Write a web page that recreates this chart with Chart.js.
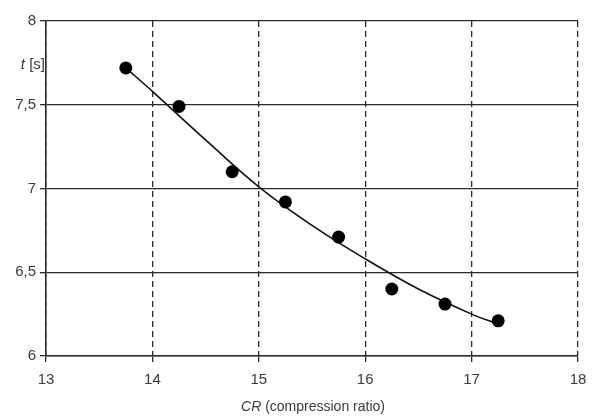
<!DOCTYPE html>
<html>
<head>
<meta charset="utf-8">
<script src="https://cdn.jsdelivr.net/npm/chart.js@4/dist/chart.umd.min.js"></script>
<style>
  html, body { margin: 0; padding: 0; background: #fff; }
  #wrap { width: 593px; height: 417px; }
</style>
</head>
<body>
<div id="wrap"><canvas id="c" width="593" height="417"></canvas></div>
<script>
// Measured fuel-injection time t against compression ratio CR
const crMeasured = [13.75, 14.25, 14.75, 15.25, 15.75, 16.25, 16.75, 17.25];
const tMeasured  = [7.72, 7.49, 7.10, 6.92, 6.71, 6.40, 6.31, 6.21];

// Trend curve through the measurements
const crTrend = [13.75, 14.0, 14.5, 15.0, 15.5, 16.0, 16.5, 17.0, 17.25];
const tTrend  = [7.72, 7.58, 7.29, 7.01, 6.78, 6.58, 6.40, 6.25, 6.19];

// Axis tick labels (comma decimals)
const xTickLabels = ['13', '14', '15', '16', '17', '18'];
const yTickLabels = ['6', '6,5', '7', '7,5', '8'];

const toPoints = (xs, ys) => xs.map((x, i) => ({ x: x, y: ys[i] }));

const textColor = '#3a3a3a';
const gridColor = '#2a2a2a';
const tickFont = { family: 'Liberation Sans, Arial, sans-serif', size: 15 };

// Paper background and axis captions with italic symbols
const captions = {
  id: 'captions',
  beforeDraw(chart) {
    const ctx = chart.ctx;
    ctx.save();
    ctx.fillStyle = '#ffffff';
    ctx.fillRect(0, 0, chart.width, chart.height);
    ctx.restore();
  },
  afterDraw(chart) {
    const ctx = chart.ctx;
    const ys = chart.scales.y;
    const area = chart.chartArea;
    ctx.save();
    ctx.fillStyle = textColor;
    ctx.textBaseline = 'middle';

    // y caption: "t [s]"
    const yc = ys.getPixelForValue(7.74);
    ctx.font = 'italic 15px Liberation Sans, Arial, sans-serif';
    const tW = ctx.measureText('t ').width;
    ctx.font = '15px Liberation Sans, Arial, sans-serif';
    const sW = ctx.measureText('[s]').width;
    const yRight = area.left - 1;
    ctx.textAlign = 'left';
    ctx.font = 'italic 15px Liberation Sans, Arial, sans-serif';
    ctx.fillText('t ', yRight - sW - tW, yc);
    ctx.font = '15px Liberation Sans, Arial, sans-serif';
    ctx.fillText('[s]', yRight - sW, yc);

    // x caption: "CR (compression ratio)"
    ctx.font = 'italic 14px Liberation Sans, Arial, sans-serif';
    const crW = ctx.measureText('CR').width;
    ctx.font = '14px Liberation Sans, Arial, sans-serif';
    const restW = ctx.measureText(' (compression ratio)').width;
    const cx = 313;
    const xStart = cx - (crW + restW) / 2;
    const xcY = 407;
    ctx.font = 'italic 14px Liberation Sans, Arial, sans-serif';
    ctx.fillText('CR', xStart, xcY);
    ctx.font = '14px Liberation Sans, Arial, sans-serif';
    ctx.fillText(' (compression ratio)', xStart + crW, xcY);
    ctx.restore();
  }
};

new Chart(document.getElementById('c'), {
  type: 'scatter',
  data: {
    datasets: [
      {
        label: 'measured',
        data: toPoints(crMeasured, tMeasured),
        pointRadius: 6.5,
        pointHoverRadius: 6.5,
        pointBackgroundColor: '#000',
        pointBorderColor: '#000',
        pointBorderWidth: 0,
        showLine: false
      },
      {
        label: 'trend',
        data: toPoints(crTrend, tTrend),
        showLine: true,
        pointRadius: 0,
        borderColor: '#111',
        borderWidth: 1.6,
        tension: 0.4,
        fill: false
      }
    ]
  },
  plugins: [captions],
  options: {
    responsive: false,
    animation: false,
    events: [],
    layout: { padding: { top: 21, right: 15, left: 0, bottom: 0 } },
    plugins: {
      legend: { display: false },
      tooltip: { enabled: false }
    },
    scales: {
      x: {
        type: 'linear',
        min: 13,
        max: 18,
        afterFit(scale) {
          scale.height = 61;
          scale.paddingRight = 10;
          scale.paddingLeft = 0;
        },
        afterBuildTicks(scale) {
          scale.ticks = xTickLabels.map(v => ({ value: parseFloat(v) }));
        },
        ticks: {
          autoSkip: false,
          maxRotation: 0,
          padding: 9,
          color: textColor,
          font: tickFont,
          callback: (v, i) => xTickLabels[i]
        },
        grid: {
          color: gridColor,
          lineWidth: 1.3,
          tickLength: 6,
          tickColor: gridColor,
          tickBorderDash: []
        },
        border: { display: true, color: gridColor, width: 1.6, dash: [6, 4] }
      },
      y: {
        type: 'linear',
        min: 6,
        max: 8,
        afterFit(scale) { scale.width = 46; },
        afterBuildTicks(scale) {
          scale.ticks = yTickLabels.map(v => ({ value: parseFloat(v.replace(',', '.')) }));
        },
        ticks: {
          autoSkip: false,
          padding: 4,
          color: textColor,
          font: tickFont,
          callback: (v, i) => yTickLabels[i]
        },
        grid: {
          color: gridColor,
          lineWidth: 1.3,
          tickLength: 6,
          tickColor: gridColor
        },
        border: { display: true, color: gridColor, width: 1.6 }
      }
    }
  }
});
</script>
</body>
</html>
